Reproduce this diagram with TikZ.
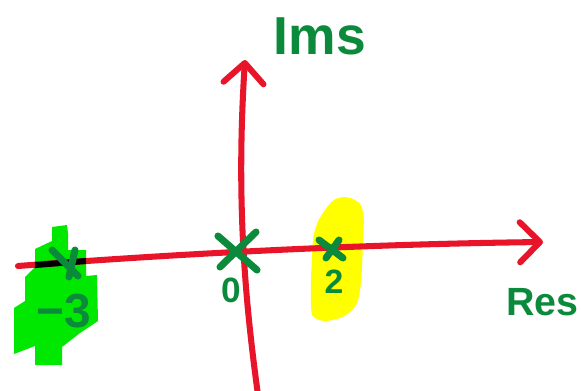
\documentclass[tikz,border=0pt]{standalone}
\usepackage{fontspec}
\setmainfont{Liberation Sans}
\usetikzlibrary{arrows.meta}
\definecolor{axisred}{HTML}{E8142A}
\definecolor{penGreen}{HTML}{0B8A3B}
\definecolor{limeGreen}{HTML}{00E800}
\definecolor{hiYellow}{HTML}{FFFF00}
\tikzset{
  axisline/.style={draw=axisred, line width=4.3pt, line cap=round, line join=round,
    -{Straight Barb[length=0.5cm,width=1cm,line cap=round,line join=round]}},
  polestroke/.style={draw=penGreen, line width=5pt, line cap=round},
  penlabel/.style={text=penGreen, font=\bfseries, inner sep=0pt},
}
\begin{document}
\begin{tikzpicture}[x=0.025cm, y=-0.025cm]
\useasboundingbox[fill=white] (0,0) rectangle (581,390);
\clip (0,0) rectangle (581,390);

% highlighted regions
\fill[limeGreen] (52,227) -- (67,225) -- (68,233) -- (68,250) -- (86,250) -- (86,276)
  -- (97,275) -- (98,321) -- (80,333) -- (62,347) -- (62,365) -- (35,365) -- (35,346)
  -- (14,354) -- (14,308) -- (25,301) -- (25,277) -- (35,267) -- (35,249) -- (52,241) -- cycle;
\fill[hiYellow] plot[smooth cycle, tension=0.7] coordinates {(338,198) (355,200) (363,212)
  (363,240) (360,290) (352,310) (333,320) (315,318) (311,303) (312,257) (315,230) (325,210)};

% axes
\coordinate (reStart) at (18,266);
\coordinate (reEnd) at (543,242);
\coordinate (imStart) at (258,395);
\coordinate (imEnd) at (245,60);
\draw[axisline] (reStart) .. controls (200,252) and (380,244) .. (reEnd);
\draw[axisline] (imStart) .. controls (245,300) and (236,200) .. (imEnd);
\coordinate (blackA) at (35,265);
\coordinate (blackB) at (86,261);
\draw[black, line width=4.3pt] (blackA) -- (blackB);

% poles
\coordinate (poleA) at (65,263);
\coordinate (poleB) at (238,252);
\coordinate (poleC) at (331,249);
\draw[polestroke] (poleA) ++(-13,-13) -- ++(26,26);
\draw[polestroke] (poleA) ++(10,-13) -- ++(-6,27);
\draw[polestroke] (poleB) ++(-20,-16) -- ++(39,34);
\draw[polestroke] (poleB) ++(18,-20) -- ++(-36,35);
\draw[polestroke] (poleC) ++(-12,-9) -- ++(24,18);
\draw[polestroke] (poleC) ++(8,-9) -- ++(-13,18);

% labels
\node[penlabel, font=\bfseries\fontsize{34}{34}\selectfont] (lblA) at (64,311) {−3};
\node[penlabel, font=\bfseries\fontsize{25}{25}\selectfont] (lblB) at (231,290) {0};
\node[penlabel, font=\bfseries\fontsize{24}{24}\selectfont] (lblC) at (334,282) {2};
\node[penlabel, font=\bfseries\fontsize{38}{38}\selectfont] (lblIm) at (320,36) {Ims};
\node[penlabel, font=\bfseries\fontsize{28}{28}\selectfont, anchor=east] (lblRe) at (579,302) {Res};
\end{tikzpicture}
\end{document}
